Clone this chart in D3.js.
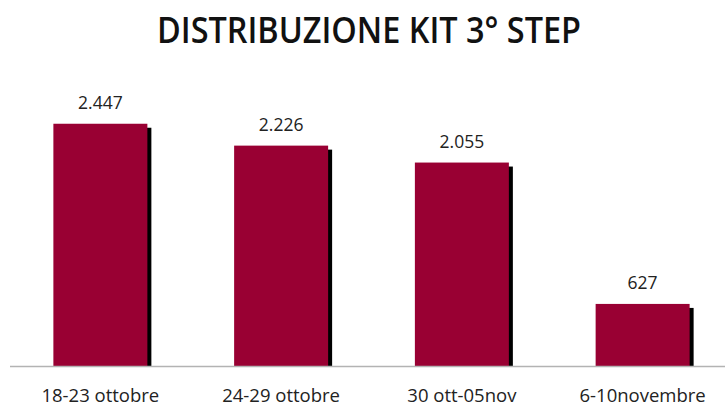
<!DOCTYPE html>
<html lang="it">
  <head>
    <meta charset="UTF-8" />
    <title>Distribuzione kit 3° step</title>
    <script src="https://d3js.org/d3.v7.min.js"></script>
    <style>
      body {
        margin: 0;
        background-color: #fff;
        font-family: "Open Sans", sans-serif;
      }
    </style>
  </head>
  <body>
    <div id="chart"></div>
    <script>
      // data
      const categories = ["18-23 ottobre", "24-29 ottobre", "30 ott-05nov", "6-10novembre"];
      const values = [2447, 2226, 2055, 627];
      const valueLabels = ["2.447", "2.226", "2.055", "627"];

      const width = 726;
      const height = 408;
      const baseline = 366;

      const svg = d3
        .select("#chart")
        .append("svg")
        .attr("width", width)
        .attr("height", height);

      const x = d3
        .scaleBand()
        .domain(categories)
        .range([10, 733])
        .paddingInner(0.48)
        .paddingOuter(0.24);

      const y = d3.scaleLinear().domain([0, 3000]).range([baseline, 69]);

      const rows = categories.map((c, i) => ({ cat: c, value: values[i], label: valueLabels[i] }));

      // title
      svg
        .append("text")
        .attr("x", 369)
        .attr("y", 43)
        .attr("text-anchor", "middle")
        .attr("textLength", 424)
        .attr("lengthAdjust", "spacingAndGlyphs")
        .style("font-weight", "600")
        .style("font-size", "36px")
        .style("fill", "#111")
        .text("DISTRIBUZIONE KIT 3° STEP");

      // shadow behind each bar
      svg
        .selectAll("rect.shadow")
        .data(rows)
        .enter()
        .append("rect")
        .attr("class", "shadow")
        .attr("x", (d) => x(d.cat) + 4)
        .attr("y", (d) => y(d.value) + 4)
        .attr("width", x.bandwidth())
        .attr("height", (d) => baseline - y(d.value) - 4)
        .attr("fill", "#000");

      svg
        .selectAll("rect.bar")
        .data(rows)
        .enter()
        .append("rect")
        .attr("class", "bar")
        .attr("x", (d) => x(d.cat))
        .attr("y", (d) => y(d.value))
        .attr("width", x.bandwidth())
        .attr("height", (d) => baseline - y(d.value))
        .attr("fill", "#990033");

      // baseline
      svg
        .append("line")
        .attr("x1", 10)
        .attr("x2", 725)
        .attr("y1", baseline + 0.5)
        .attr("y2", baseline + 0.5)
        .attr("stroke", "#b3b3b3")
        .attr("stroke-width", 1.5);

      svg
        .selectAll("text.value")
        .data(rows)
        .enter()
        .append("text")
        .attr("class", "value")
        .attr("x", (d) => x(d.cat) + x.bandwidth() / 2)
        .attr("y", (d) => y(d.value) - 15)
        .attr("text-anchor", "middle")
        .style("font-size", "17.5px")
        .style("fill", "#222")
        .text((d) => d.label);

      svg
        .selectAll("text.cat")
        .data(rows)
        .enter()
        .append("text")
        .attr("class", "cat")
        .attr("x", (d) => x(d.cat) + x.bandwidth() / 2)
        .attr("y", 402)
        .attr("text-anchor", "middle")
        .style("font-size", "18.5px")
        .style("fill", "#222")
        .text((d) => d.cat);
    </script>
  </body>
</html>
